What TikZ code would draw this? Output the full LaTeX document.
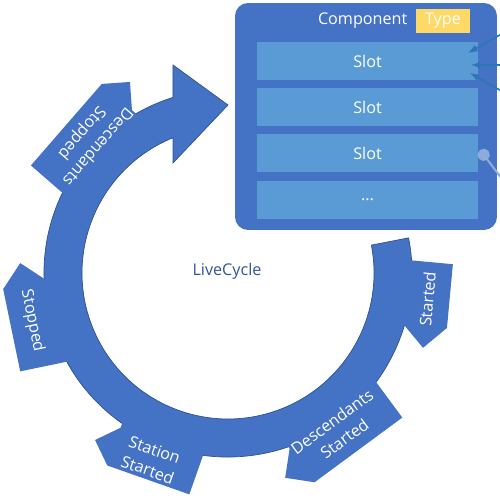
\documentclass[tikz,border=0pt]{standalone}
\usepackage{fontspec}
\setmainfont{Open Sans}
\usepackage{tikz}
\usepackage{xcolor}
\usetikzlibrary{positioning, arrows}

\definecolor{ringblue}{HTML}{4472C4}
\definecolor{ringedge}{HTML}{2F528F}
\definecolor{slotblue}{HTML}{5B9BD5}
\definecolor{typegold}{HTML}{FFD966}
\definecolor{linkblue}{HTML}{2E75B6}
\definecolor{linkgray}{HTML}{8FAADC}
\definecolor{cycletext}{HTML}{2F5597}

\begin{document}
\begin{tikzpicture}[x = 0.02cm, y = 0.02cm, font = \fontsize{9.2}{12}\selectfont,
	slot/.style = {fill = slotblue, text = white, minimum width = 4.42cm, minimum height = 0.76cm, inner sep = 0},
	tab/.style = {text = white, align = center, inner sep = 0},
	link/.style = {draw = linkblue, line width = 0.9pt, -latex},
	node distance = 0.15cm]
	\useasboundingbox (0,0) rectangle (500,501);
	% ring with its arrow head
	\fill[ringblue, draw = ringedge, line width = 0.4pt] (228,228) ++(11:184) arc[start angle = 11, end angle = -252.6, radius = 184] -- (173,436) -- (228,396) -- (173,338) -- (173.1,363.3) arc[start angle = -247.9, end angle = 11, radius = 146] -- cycle;
	% tabs: centre x / centre y / angle / length / width / text shift / text
	\foreach \cx/\cy/\ang/\len/\wid/\ux/\txt [count = \i] in {427/196/-5.3/86/44/0/{Started}, 31/186/-168.3/106/44/0/{Stopped}, 145.5/43.25/-109.4/107/40/0/{Station\\Started}, 337.5/61.75/-53.6/130/42/-7/{Descendants\\Started}, 88/370.75/139/128/40/-7/{Descendants\\Stopped}} {
		\begin{scope}[shift = {(\cx,\cy)}, rotate = \ang]
			\fill[ringblue] (-\wid/2-8, \len/2) -- (\wid/2, \len/2) -- (\wid/2, -\len/2+\wid/2) -- (0, -\len/2) -- (-\wid/2, -\len/2+\wid/2) -- (-\wid/2-8, -\len/2+\wid/2) -- cycle;
			\node[tab, rotate = \ang+90] (tab\i) at (\ux, 6) {\txt};
		\end{scope}
	}
	\node[text = cycletext] (cycle) at (227,230) {LiveCycle};
	% component with its slots
	\node[fill = ringblue, rounded corners = 0.26cm, minimum width = 5.24cm, minimum height = 4.54cm] (comp) at (366,384.5) {};
	\node[fill = typegold, text = white, minimum width = 1.08cm, minimum height = 0.48cm, inner sep = 0] (type) at (443,480) {Type};
	\node[text = white, left = 0.16cm of type, inner sep = 0] (compname) {Component};
	\node[slot] (slot1) at (367.5,440) {Slot};
	\node[slot, below = of slot1] (slot2) {Slot};
	\node[slot, below = of slot2] (slot3) {Slot};
	\node[slot, below = of slot3] (slot4) {...};
	% incoming links
	\coordinate (in1) at (512,473);
	\coordinate (in2) at (512,436);
	\coordinate (in3) at (512,404);
	\coordinate (in4) at (512,309);
	\coordinate (hit1) at (468,448);
	\coordinate (hit2) at (471,436);
	\coordinate (hit3) at (470,428);
	\coordinate (hit4) at (480,351);
	\draw[link] (in1) -- (hit1);
	\draw[link] (in2) -- (hit2);
	\draw[link] (in3) -- (hit3);
	\draw[draw = linkgray, line width = 1.2pt, -*] (in4) -- (hit4);
\end{tikzpicture}
\end{document}
